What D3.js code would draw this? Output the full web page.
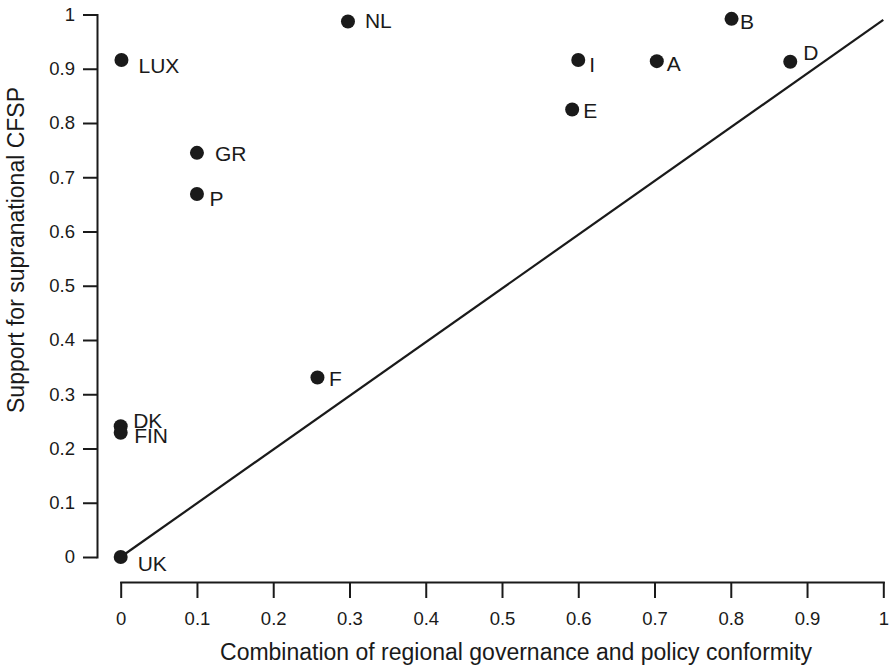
<!DOCTYPE html>
<html>
<head>
<meta charset="utf-8">
<script src="https://cdnjs.cloudflare.com/ajax/libs/d3/7.8.5/d3.min.js"></script>
<style>
  body { margin: 0; background: #fff; }
  svg { display: block; font-family: "Liberation Sans", Arial, sans-serif; }
  .axis path, .axis line { stroke: #1a1a1a; stroke-width: 2; }
  .axis text { fill: #1a1a1a; font-size: 18.5px; }
</style>
</head>
<body>
<div id="chart"></div>
<script>
// countries and their scores
var countries = ["UK", "DK", "FIN", "LUX", "GR", "P", "NL", "F", "I", "A", "E", "B", "D"];
var conformity = [0, 0, 0, 0.001, 0.1, 0.1, 0.298, 0.258, 0.6, 0.703, 0.592, 0.801, 0.878];
var support = [0, 0.241, 0.229, 0.916, 0.745, 0.669, 0.987, 0.331, 0.916, 0.914, 0.825, 0.992, 0.913];

// fitted line, start and end
var fitX = [0, 1];
var fitY = [0, 0.99];

var xTicks = [0, 0.1, 0.2, 0.3, 0.4, 0.5, 0.6, 0.7, 0.8, 0.9, 1];
var yTicks = [0, 0.1, 0.2, 0.3, 0.4, 0.5, 0.6, 0.7, 0.8, 0.9, 1];

var xTitle = "Combination of regional governance and policy conformity";
var yTitle = "Support for supranational CFSP";

// label nudges (px) so the names sit like in the print
var labelNudge = {
  UK: [17, 6.5], DK: [12.5, -5.5], FIN: [13.5, 3], LUX: [17, 5],
  GR: [18, 0.5], P: [12.5, 4], NL: [17, -1], F: [11.5, 1],
  I: [11, 4], A: [10, 2], E: [11, 1], B: [8.5, 2.5], D: [13, -9]
};

var width = 889, height = 667;

var svg = d3.select("#chart").append("svg")
    .attr("width", width)
    .attr("height", height);

var x = d3.scaleLinear().domain([0, 1]).range([120.7, 883.3]);
var y = d3.scaleLinear().domain([0, 1]).range([557, 14.5]);

var fmt = function(d) { return (d === 0 || d === 1) ? String(d) : d.toFixed(1); };

// y axis, shifted left of the plot
svg.append("g")
    .attr("class", "axis")
    .attr("transform", "translate(97,0)")
    .call(d3.axisLeft(y)
        .tickValues(yTicks)
        .tickFormat(fmt)
        .tickSize(14)
        .tickSizeOuter(0)
        .tickPadding(8));

// x axis, below the plot
svg.append("g")
    .attr("class", "axis")
    .attr("transform", "translate(0,582)")
    .call(d3.axisBottom(x)
        .tickValues(xTicks)
        .tickFormat(fmt)
        .tickSize(16)
        .tickSizeOuter(0)
        .tickPadding(14));

svg.selectAll(".axis .domain").attr("stroke-linecap", "square");

// fitted line
var fit = fitX.map(function(v, i) { return [v, fitY[i]]; });
svg.append("path")
    .datum(fit)
    .attr("fill", "none")
    .attr("stroke", "#1a1a1a")
    .attr("stroke-width", 2.2)
    .attr("d", d3.line()
        .x(function(d) { return x(d[0]); })
        .y(function(d) { return y(d[1]); }));

var pts = countries.map(function(c, i) {
  return { name: c, x: conformity[i], y: support[i] };
});

svg.selectAll("circle.pt")
    .data(pts)
    .enter().append("circle")
    .attr("class", "pt")
    .attr("cx", function(d) { return x(d.x); })
    .attr("cy", function(d) { return y(d.y); })
    .attr("r", 7)
    .attr("fill", "#1a1a1a");

svg.selectAll("text.lbl")
    .data(pts)
    .enter().append("text")
    .attr("class", "lbl")
    .attr("x", function(d) { return x(d.x) + labelNudge[d.name][0]; })
    .attr("y", function(d) { return y(d.y) + labelNudge[d.name][1]; })
    .attr("dy", "0.36em")
    .attr("font-size", "21px")
    .attr("fill", "#1a1a1a")
    .text(function(d) { return d.name; });

// axis titles
svg.append("text")
    .attr("x", 516)
    .attr("y", 660)
    .attr("text-anchor", "middle")
    .attr("font-size", "23px")
    .attr("fill", "#1a1a1a")
    .text(xTitle);

svg.append("text")
    .attr("transform", "translate(24,250) rotate(-90)")
    .attr("text-anchor", "middle")
    .attr("font-size", "23px")
    .attr("fill", "#1a1a1a")
    .text(yTitle);
</script>
</body>
</html>
